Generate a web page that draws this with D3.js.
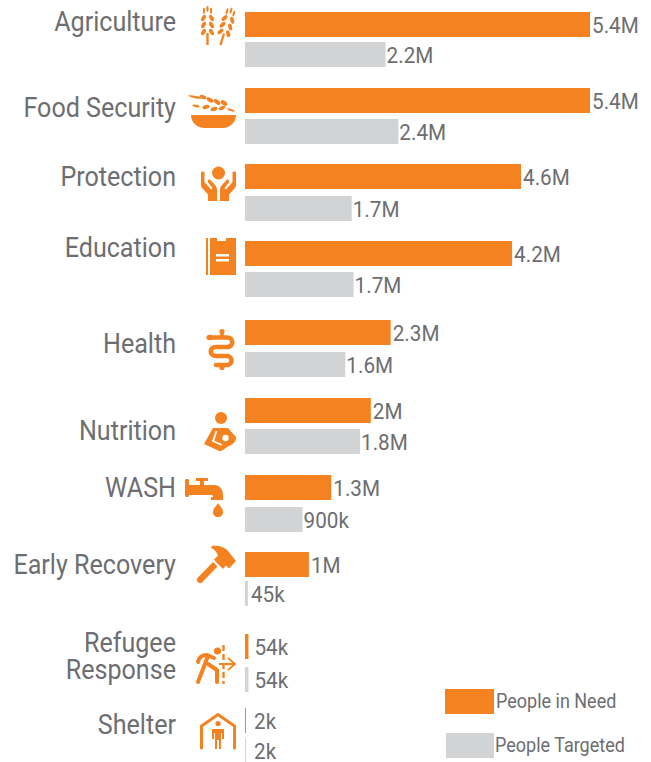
<!DOCTYPE html>
<html>
<head>
<meta charset="utf-8">
<script src="https://cdn.jsdelivr.net/npm/d3@7"></script>
<style>
html, body { margin: 0; padding: 0; background: #fff; }
svg { display: block; }
text { font-family: Roboto, sans-serif; fill: #6d6e71; }
</style>
</head>
<body>
<svg id="chart" width="651" height="762"></svg>
<script>
var categories = ['Agriculture', 'Food Security', 'Protection', 'Education', 'Health', 'Nutrition', 'WASH', 'Early Recovery', 'Refugee|Response', 'Shelter'];
// bar lengths (millions), they do not always agree with the printed label
var need_values = [5.4, 5.4, 4.32, 4.18, 2.28, 1.97, 1.35, 1.0, 0.054, 0.002];
var target_values = [2.2, 2.4, 1.67, 1.7, 1.57, 1.8, 0.9, 0.045, 0.054, 0.002];
var need_labels = ['5.4M', '5.4M', '4.6M', '4.2M', '2.3M', '2M', '1.3M', '1M', '54k', '2k'];
var target_labels = ['2.2M', '2.4M', '1.7M', '1.7M', '1.6M', '1.8M', '900k', '45k', '54k', '2k'];
var legend_labels = ['People in Need', 'People Targeted'];

var orange = '#f58220', gray = '#d1d3d4';
var svg = d3.select('#chart');

var x = d3.scaleLinear().domain([0, 5.4]).range([245, 590]);
var need_y = d3.scaleOrdinal().domain(categories).range([12, 88, 164, 241, 320, 398, 475, 552, 634, 708]);
var target_y = d3.scaleOrdinal().domain(categories).range([42, 119, 196, 272, 352, 429, 507, 581, 667, 738]);
var label_y = d3.scaleOrdinal().domain(categories).range([31, 117, 186, 257, 353, 440, 497, 574, 652, 734]);
var bar_h = 25;

function bar_w(v) { return Math.max(1, x(v) - x(0)); }

// the tiny bars have their labels pushed further out
function label_pad(v, pad) {
	if (v < 0.01) return 8;
	if (v < 0.05) return 3;
	if (v < 0.1) return 6;
	return pad;
}

function draw_series(values, labels, y, color, pad) {
	svg.append('g').selectAll('rect').data(categories).enter().append('rect')
		.attr('x', x(0))
		.attr('y', d => y(d))
		.attr('width', (d, i) => bar_w(values[i]))
		.attr('height', bar_h)
		.attr('fill', color);
	svg.append('g').selectAll('text').data(categories).enter().append('text')
		.attr('transform', (d, i) => 'translate(' + (x(0) + bar_w(values[i]) + label_pad(values[i], pad)) + ',' + (y(d) + 21) + ') scale(0.92,1)')
		.attr('font-size', 22.5)
		.text((d, i) => labels[i]);
}
draw_series(need_values, need_labels, need_y, orange, 2);
draw_series(target_values, target_labels, target_y, gray, 1);

// category names, right aligned against the icons
categories.forEach(function(c) {
	c.split('|').forEach(function(line, j) {
		svg.append('text')
			.attr('transform', 'translate(176,' + (label_y(c) + j * 27) + ') scale(0.93,1)')
			.attr('text-anchor', 'end')
			.attr('font-size', 27)
			.text(line);
	});
});

// legend
var legend_y = d3.scaleOrdinal().domain(legend_labels).range([689, 733]);
svg.append('g').selectAll('rect').data(legend_labels).enter().append('rect')
	.attr('x', (d, i) => i ? 446 : 445)
	.attr('y', d => legend_y(d))
	.attr('width', (d, i) => i ? 48 : 49)
	.attr('height', bar_h)
	.attr('fill', (d, i) => i ? gray : orange);
svg.append('g').selectAll('text').data(legend_labels).enter().append('text')
	.attr('transform', (d, i) => 'translate(' + (i ? 495 : 496) + ',' + (legend_y(d) + 19) + ') scale(0.9,1)')
	.attr('font-size', 20)
	.text(d => d);

// icons
var icons = svg.append('g').attr('fill', orange);

function wheat(px, py, angle) {
	var g = icons.append('g').attr('transform', 'translate(' + px + ',' + py + ') rotate(' + angle + ')');
	g.append('rect').attr('x', -1.2).attr('y', -12).attr('width', 2.4).attr('height', 12);
	[-13, -20, -27].forEach(function(h) {
		[-1, 1].forEach(function(s) {
			g.append('ellipse').attr('rx', 1.9).attr('ry', 3.6)
				.attr('transform', 'translate(' + s * 4 + ',' + h + ') rotate(' + s * -30 + ')');
		});
	});
	[-1, 1].forEach(function(s) {
		g.append('ellipse').attr('rx', 1.1).attr('ry', 3.2)
			.attr('transform', 'translate(' + s * 3.6 + ',-34)');
	});
	g.append('ellipse').attr('cy', -36).attr('rx', 1.1).attr('ry', 3.2);
}
wheat(207.5, 45, 0);
wheat(220.5, 45, 17);

// bowl
icons.append('path').attr('d', 'M191 115H236C236 123 229 128 223 128H204C198 128 191 123 191 115Z');
[[195, 97, 7, 1.2, 12], [203, 97, 3.6, 1.8, 20], [210, 100, 3.8, 2, 30], [217, 102, 3.8, 2, 35], [224, 103, 3.8, 2.2, 35],
	[196, 106, 3.6, 1.2, 10], [206, 107, 3.6, 2, -15], [214, 109, 3.6, 2, -20], [222, 108, 3.4, 1.8, -25], [231, 110, 4, 1.1, 20]].forEach(function(g) {
	icons.append('ellipse').attr('rx', g[2]).attr('ry', g[3]).attr('transform', 'translate(' + g[0] + ',' + g[1] + ') rotate(' + g[4] + ')');
});

// protection
icons.append('circle').attr('cx', 218.5).attr('cy', 173).attr('r', 6.5);
var hand = 'M201 172.5C201 171 204.5 171 204.5 172.5V182L211 189.5L212.5 188L208 182.5C207 180 209.5 178.5 211 180.5L215 185C216.5 187 217 188 217 190V201H208V194.5L202.5 188.5C201.5 187.5 201 186 201 185Z';
icons.append('path').attr('d', hand);
icons.append('path').attr('d', hand).attr('transform', 'translate(437,0) scale(-1,1)');

// education
icons.append('path').attr('d', 'M206 238H208V275H206Z');
icons.append('path').attr('d', 'M210 238H217V241H226V238H236V275H210Z');
icons.append('path').attr('d', 'M216 254H229V256.5H216ZM216 259H229V261.5H216Z').attr('fill', '#fff');

// health
icons.append('circle').attr('cx', 222).attr('cy', 331.5).attr('r', 2.6);
icons.append('rect').attr('x', 220.2).attr('y', 331).attr('width', 3.6).attr('height', 6);
icons.append('circle').attr('cx', 222).attr('cy', 367.5).attr('r', 2.6);
icons.append('path').attr('d', 'M209 337.5H227C234 337.5 234 347 227 347H216C209 347 209 356 216 356H227C233 356 233 365 227 365H216')
	.attr('fill', 'none').attr('stroke', orange).attr('stroke-width', 4.6).attr('stroke-linecap', 'round');
icons.append('ellipse').attr('cx', 210).attr('cy', 337.5).attr('rx', 3.5).attr('ry', 2.8);

// nutrition
icons.append('circle').attr('cx', 221).attr('cy', 418).attr('r', 6);
icons.append('path').attr('d', 'M213 428H228L236 437C236.5 442 232 445 227 447L223 450C221 451.5 219 451 217 450L204 444Z');
icons.append('path').attr('d', 'M216.5 431C215 435 214.5 438 213 441L222 445').attr('fill', 'none').attr('stroke', '#fff').attr('stroke-width', 1.8);
icons.append('circle').attr('cx', 225.5).attr('cy', 438).attr('r', 3.2).attr('fill', '#fff');

// tap
icons.append('path').attr('d', 'M185 480C185 478.5 189 478.5 189 480V485H200V481H196V478H208V481H204V485H214C220 485 223 489 223 496V497H223V500H211V497H213V496C213 495 212 495 211 495H189V495.5C189 497.5 185 497.5 185 495.5Z');
icons.append('path').attr('d', 'M218 503C220 507 223 508 223 512C223 515 221 517 218 517C215 517 213 515 213 512C213 508 216 507 218 503Z');

// hammer
icons.append('path').attr('d', 'M197 578.5L213 562L217.5 566.5L201.5 583C199 584 196 581 197 578.5Z');
icons.append('path').attr('d', 'M214 559.5L217 556.5L222.5 562L219.5 565Z');
icons.append('path').attr('d', 'M212 546C218 545 225 547 228 551L236 561L229 568.5L226 565.5L223 569L215 561L218 555.5C216 551 214 549 211 548Z');

// refugee
icons.append('circle').attr('cx', 217.5).attr('cy', 651).attr('r', 3.6);
icons.append('g').attr('fill', 'none').attr('stroke', orange).attr('stroke-width', 4).attr('stroke-linecap', 'round').attr('stroke-linejoin', 'round')
	.selectAll('path').data(['M198 662C199 657 202 655 207 655L214 658', 'M208 656L198 682', 'M208 664L217 670V682']).enter().append('path')
	.attr('d', d => d);
icons.append('path').attr('d', 'M223.5 645V684').attr('stroke', orange).attr('stroke-width', 2.4).attr('stroke-dasharray', '6 3').attr('fill', 'none');
icons.append('path').attr('d', 'M219 664H234M228 658L235 664L228 670').attr('stroke', orange).attr('stroke-width', 1.8).attr('fill', 'none');

// shelter
icons.append('path').attr('d', 'M201.5 748V726L218 714.5L234.5 726V748').attr('fill', 'none').attr('stroke', orange).attr('stroke-width', 3).attr('stroke-linecap', 'round');
icons.append('circle').attr('cx', 218).attr('cy', 723.5).attr('r', 2.6);
icons.append('path').attr('d', 'M212 729H224V739H222V733H221V749H219V740H217V749H215V733H214V739H212Z');
</script>
</body>
</html>
